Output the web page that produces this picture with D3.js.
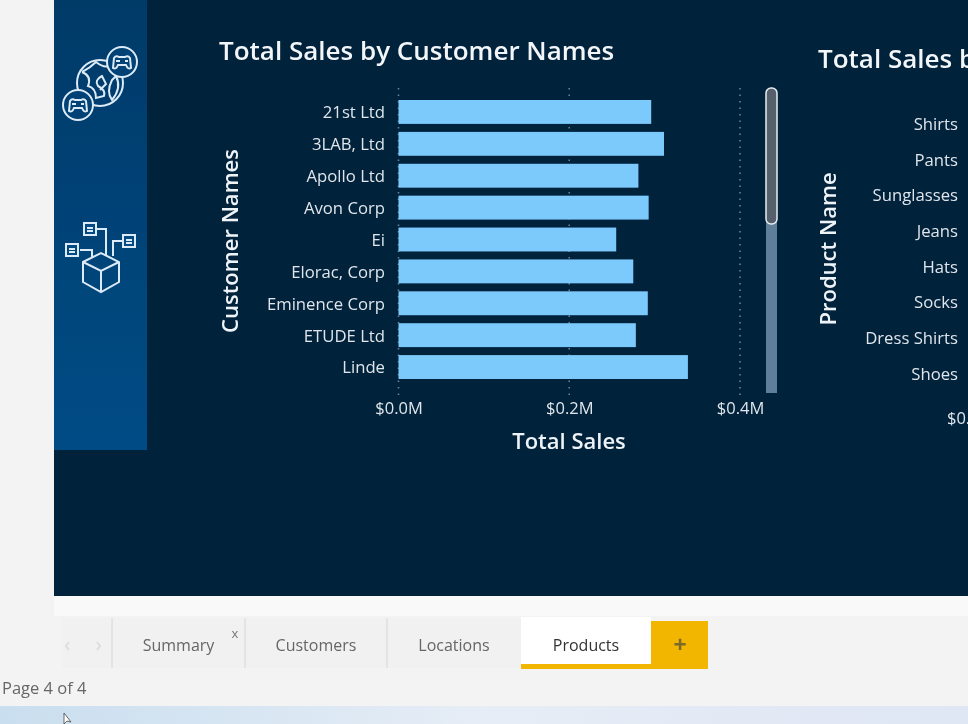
<!DOCTYPE html>
<html>
<head>
<meta charset="utf-8">
<script src="https://cdn.jsdelivr.net/npm/d3@7"></script>
<style>
html, body { margin: 0; padding: 0; background: #f3f3f3; overflow: hidden; }
svg { display: block; }
svg text { font-family: "Open Sans", sans-serif; }
.tick text { fill: #dfe6ec; }
</style>
</head>
<body>
<svg id="chart" width="968" height="724"></svg>
<script>
// values, in $M
const customerNames = ['21st Ltd', '3LAB, Ltd', 'Apollo Ltd', 'Avon Corp', 'Ei', 'Elorac, Corp', 'Eminence Corp', 'ETUDE Ltd', 'Linde'];
const customerSales = [0.296, 0.311, 0.281, 0.293, 0.255, 0.275, 0.292, 0.278, 0.339];
const salesTicks = [0, 0.2, 0.4];
const productNames = ['Shirts', 'Pants', 'Sunglasses', 'Jeans', 'Hats', 'Socks', 'Dress Shirts', 'Shoes'];
const tabNames = ['Summary', 'Customers', 'Locations', 'Products'];

const root = d3.select('#chart');
const defs = root.append('defs');

const sideGrad = defs.append('linearGradient').attr('id', 'sideGrad').attr('x2', 0).attr('y2', 1);
sideGrad.append('stop').attr('offset', 0).attr('stop-color', '#003a68');
sideGrad.append('stop').attr('offset', 1).attr('stop-color', '#014c86');

const deskGrad = defs.append('linearGradient').attr('id', 'deskGrad');
deskGrad.append('stop').attr('offset', 0).attr('stop-color', '#c9deef');
deskGrad.append('stop').attr('offset', 0.5).attr('stop-color', '#e6edf6');
deskGrad.append('stop').attr('offset', 1).attr('stop-color', '#dfe6f4');

// the reference is a soft video frame
defs.append('filter').attr('id', 'soft').attr('x', 0).attr('y', 0).attr('width', 1).attr('height', 1)
  .append('feGaussianBlur').attr('stdDeviation', 0.5);

const svg = root.append('g').attr('filter', 'url(#soft)');

// report page
svg.append('rect').attr('x', 0).attr('y', 0).attr('width', 968).attr('height', 724).attr('fill', '#f3f3f3');
svg.append('rect').attr('x', 54).attr('y', 596).attr('width', 914).attr('height', 20).attr('fill', '#f9f9f9');
svg.append('rect').attr('x', 54).attr('y', 0).attr('width', 914).attr('height', 596).attr('fill', '#01203a');
svg.append('rect').attr('x', 54).attr('y', 0).attr('width', 93).attr('height', 450).attr('fill', 'url(#sideGrad)');
svg.append('rect').attr('x', 0).attr('y', 706).attr('width', 968).attr('height', 18).attr('fill', 'url(#deskGrad)');

// sidebar icons
const icons = svg.append('g').attr('fill', 'none').attr('stroke', '#dcebf7').attr('stroke-width', 2);

function gamepad(cx, cy) {
  const g = icons.append('g').attr('transform', `translate(${cx},${cy})`);
  g.append('circle').attr('r', 15).attr('fill', '#004274');
  g.append('path').attr('d', 'M-9,6 L-8,-4 Q-6,-7 -3,-5 L3,-5 Q6,-7 8,-4 L9,6 Q6,8 4,3 L-4,3 Q-6,8 -9,6 Z');
  g.append('path').attr('d', 'M-6,-1 h4 M3,-1 h3');
}
icons.append('circle').attr('cx', 100).attr('cy', 83).attr('r', 23);
icons.append('path').attr('d', 'M82,72 Q90,68 96,62 Q104,68 108,66 M82,72 Q92,76 88,86 Q96,88 96,98 L104,96 Q106,90 98,86 Q94,80 102,76 L106,84 L100,90 M116,76 Q122,88 112,100 Q106,92 112,80 Z');
gamepad(122, 62);
gamepad(78, 105);

// box with three linked squares
icons.append('path').attr('d', 'M83,262 L101,253 L119,262 L119,282 L101,292 L83,282 Z M83,262 L101,271 L119,262 M101,271 V292');
icons.append('path').attr('d', 'M97,229 H106 V256 M80,250 H92 V257 M122,241 H113 V256');
[[90, 229], [72, 250], [129, 241]].forEach(p => {
  icons.append('rect').attr('x', p[0] - 6).attr('y', p[1] - 6).attr('width', 12).attr('height', 12).attr('fill', '#004a82');
  icons.append('path').attr('d', `M${p[0] - 3},${p[1] - 1} h6 M${p[0] - 3},${p[1] + 2} h6`);
});

// left chart
const x = d3.scaleLinear().domain([0, 0.4]).range([398.5, 740]);
const y = d3.scaleBand().domain(customerNames).range([96, 383]).paddingInner(0.25).paddingOuter(0.125);

svg.append('text').attr('x', 219).attr('y', 60).attr('fill', '#f2f6f9')
  .attr('font-size', 26).attr('font-weight', 600).text('Total Sales by Customer Names');

// dotted gridlines
svg.append('g').selectAll('line').data(salesTicks).join('line')
  .attr('x1', d => x(d)).attr('x2', d => x(d)).attr('y1', 88).attr('y2', 396)
  .attr('stroke', '#6b8297').attr('stroke-width', 1.6).attr('stroke-dasharray', '1.5 5');

svg.append('g').selectAll('rect').data(customerNames).join('rect')
  .attr('x', x(0))
  .attr('y', d => y(d))
  .attr('width', (d, i) => x(customerSales[i]) - x(0))
  .attr('height', y.bandwidth())
  .attr('fill', '#7cc9fc');

const yAxis = svg.append('g').attr('transform', 'translate(398,1)')
  .call(d3.axisLeft(y).tickSize(0).tickPadding(13));
yAxis.select('.domain').remove();
yAxis.selectAll('text').attr('font-size', 16.7);

const xAxis = svg.append('g').attr('transform', 'translate(0,398)')
  .call(d3.axisBottom(x).tickValues(salesTicks).tickSize(0).tickPadding(4).tickFormat(d => '$' + d.toFixed(1) + 'M'));
xAxis.select('.domain').remove();
xAxis.selectAll('text').attr('font-size', 16.5);

svg.append('text').attr('x', 569).attr('y', 449).attr('text-anchor', 'middle').attr('fill', '#eef3f7')
  .attr('font-size', 22).attr('font-weight', 600).text('Total Sales');
svg.append('text').attr('transform', 'translate(238,241) rotate(-90)').attr('text-anchor', 'middle').attr('fill', '#eef3f7')
  .attr('font-size', 22).attr('font-weight', 600).text('Customer Names');

// scrollbar
svg.append('rect').attr('x', 766).attr('y', 90).attr('width', 11).attr('height', 303).attr('fill', '#5e7e99');
svg.append('rect').attr('x', 766).attr('y', 88).attr('width', 11).attr('height', 136).attr('rx', 5)
  .attr('fill', '#56616d').attr('stroke', '#e8eef3').attr('stroke-width', 1.5);

// right chart, cut off by the window
const yProduct = d3.scaleBand().domain(productNames).range([106, 391]);

svg.append('text').attr('x', 818).attr('y', 68).attr('fill', '#f2f6f9')
  .attr('font-size', 26).attr('font-weight', 600).text('Total Sales by Product Name');

const yAxisP = svg.append('g').attr('transform', 'translate(971,1)')
  .call(d3.axisLeft(yProduct).tickSize(0).tickPadding(13));
yAxisP.select('.domain').remove();
yAxisP.selectAll('text').attr('font-size', 16.7);

svg.append('text').attr('x', 947).attr('y', 424).attr('fill', '#dfe6ec').attr('font-size', 16.5).text('$0.0M');
svg.append('text').attr('transform', 'translate(836,249) rotate(-90)').attr('text-anchor', 'middle').attr('fill', '#eef3f7')
  .attr('font-size', 22).attr('font-weight', 600).text('Product Name');

// page tabs
const tabEdges = [112, 245, 387, 521, 651];
svg.append('rect').attr('x', 62).attr('y', 618).attr('width', 459).attr('height', 50).attr('fill', '#f1f1f1');
svg.append('g').selectAll('line').data(tabEdges.slice(0, 3)).join('line')
  .attr('x1', d => d).attr('x2', d => d).attr('y1', 618).attr('y2', 668)
  .attr('stroke', '#d6d6d6');
svg.append('rect').attr('x', 521).attr('y', 617).attr('width', 130).attr('height', 47).attr('fill', '#ffffff');
svg.append('rect').attr('x', 521).attr('y', 664).attr('width', 130).attr('height', 5).attr('fill', '#f2b600');
svg.append('rect').attr('x', 651).attr('y', 621).attr('width', 57).attr('height', 48).attr('fill', '#f2b600');
svg.append('text').attr('x', 680).attr('y', 653).attr('text-anchor', 'middle').attr('fill', '#7c6a2c')
  .attr('font-size', 23).attr('font-weight', 700).text('+');

// faint scroll arrows
svg.append('path').attr('d', 'M69,642 L66,646 L69,650 M97,642 L100,646 L97,650')
  .attr('fill', 'none').attr('stroke', '#dddddd').attr('stroke-width', 2);

svg.append('g').selectAll('text').data(tabNames).join('text')
  .attr('x', (d, i) => (tabEdges[i] + tabEdges[i + 1]) / 2)
  .attr('y', 651)
  .attr('text-anchor', 'middle')
  .attr('font-size', 16)
  .attr('fill', d => d === 'Products' ? '#333333' : '#666666')
  .text(d => d);

svg.append('text').attr('x', 235).attr('y', 638).attr('text-anchor', 'middle').attr('fill', '#777777').attr('font-size', 13).text('x');
svg.append('text').attr('x', 2).attr('y', 694).attr('fill', '#666666').attr('font-size', 16.5).text('Page 4 of 4');

// mouse pointer
svg.append('path').attr('d', 'M64,713 L64,724 L67,721 L71,722 Z').attr('fill', '#ffffff').attr('stroke', '#444444').attr('stroke-width', 0.8);
</script>
</body>
</html>
